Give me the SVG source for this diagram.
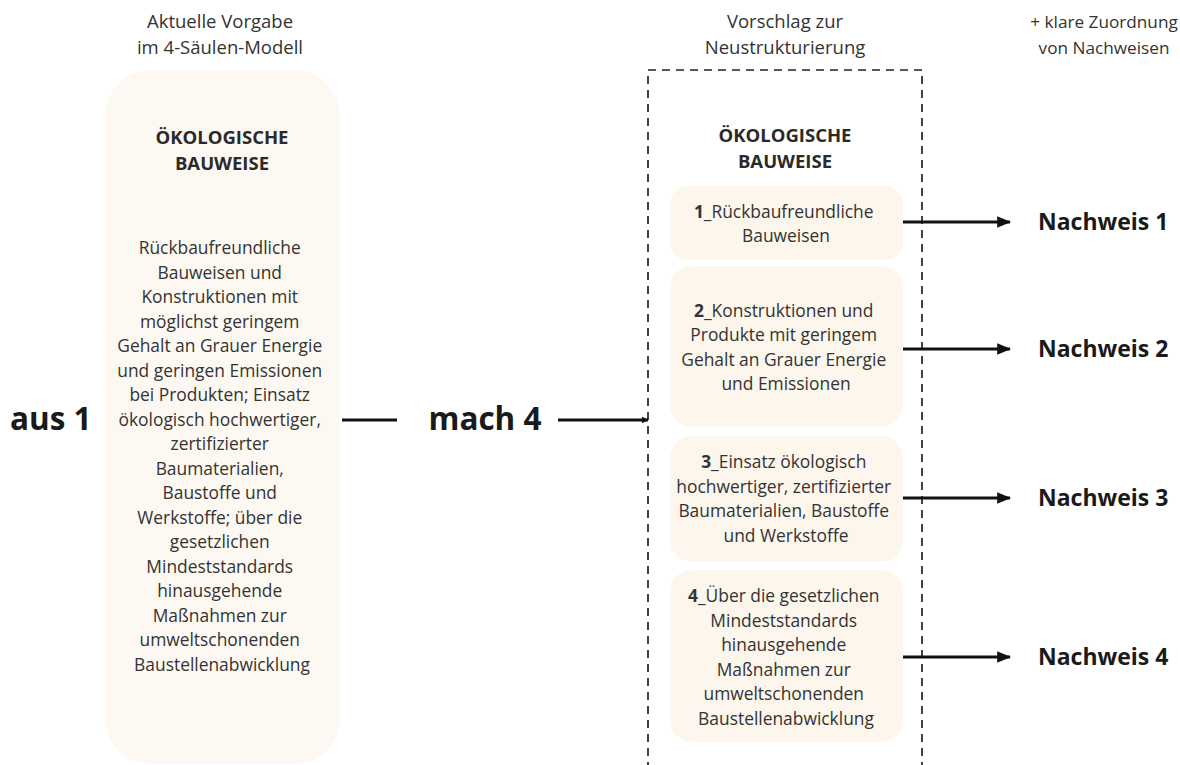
<svg xmlns="http://www.w3.org/2000/svg" width="1180" height="765" viewBox="0 0 1180 765">
  <defs>
    <marker id="arrow" viewBox="0 0 10 10" refX="9" refY="5" markerWidth="7" markerHeight="7" markerUnits="userSpaceOnUse" orient="auto">
      <path d="M0,0 L10,5 L0,10 z" fill="#111"/>
    </marker>
    <marker id="arrowBig" viewBox="0 0 12 10" refX="11" refY="5" markerWidth="14" markerHeight="12" markerUnits="userSpaceOnUse" orient="auto">
      <path d="M0,0 L12,5 L0,10 z" fill="#111"/>
    </marker>
    <style>
      text { font-family: "Open Sans", "Noto Sans", "Liberation Sans", sans-serif; fill: #2a2a2a; }
      .hdr { font-size: 18.5px; text-anchor: middle; fill: #333; }
      .hdr-sm { font-size: 17.2px; }
      .title { font-size: 18.5px; font-weight: 700; text-anchor: middle; }
      .body { font-size: 17.4px; text-anchor: middle; fill: #333; }
      .big { font-size: 31.5px; font-weight: 700; fill: #1a1a1a; }
      .nw { font-size: 23px; font-weight: 700; fill: #1a1a1a; }
      .pill { fill: #fdf9f2; }
      .box { fill: #fcf6ec; }
      .conn { stroke: #111; stroke-width: 2.8; fill: none; }
      .frame { stroke: #222; stroke-width: 1.7; fill: none; stroke-dasharray: 8 6; }
    </style>
  </defs>

  <!-- column headers -->
  <g id="headers">
    <text class="hdr" x="220" y="28">Aktuelle Vorgabe</text>
    <text class="hdr" x="220" y="54">im 4-Säulen-Modell</text>
    <text class="hdr" x="785" y="28">Vorschlag zur</text>
    <text class="hdr" x="785" y="54">Neustrukturierung</text>
    <text class="hdr hdr-sm" x="1104" y="28">+ klare Zuordnung</text>
    <text class="hdr hdr-sm" x="1104" y="54">von Nachweisen</text>
  </g>

  <!-- current single pillar -->
  <g id="pillar-current">
    <rect class="pill" x="105" y="70" width="235" height="694" rx="46"/>
    <text class="title" x="222" y="144">ÖKOLOGISCHE</text>
    <text class="title" x="222" y="170">BAUWEISE</text>
    <text class="body">
      <tspan x="222" y="254">Rückbaufreundliche</tspan>
      <tspan x="222" y="278.5">Bauweisen und</tspan>
      <tspan x="222" y="303">Konstruktionen mit</tspan>
      <tspan x="222" y="327.5">möglichst geringem</tspan>
      <tspan x="222" y="352">Gehalt an Grauer Energie</tspan>
      <tspan x="222" y="376.5">und geringen Emissionen</tspan>
      <tspan x="222" y="401">bei Produkten; Einsatz</tspan>
      <tspan x="222" y="425.5">ökologisch hochwertiger,</tspan>
      <tspan x="222" y="450">zertifizierter</tspan>
      <tspan x="222" y="474.5">Baumaterialien,</tspan>
      <tspan x="222" y="499">Baustoffe und</tspan>
      <tspan x="222" y="523.5">Werkstoffe; über die</tspan>
      <tspan x="222" y="548">gesetzlichen</tspan>
      <tspan x="222" y="572.5">Mindeststandards</tspan>
      <tspan x="222" y="597">hinausgehende</tspan>
      <tspan x="222" y="621.5">Maßnahmen zur</tspan>
      <tspan x="222" y="646">umweltschonenden</tspan>
      <tspan x="222" y="670.5">Baustellenabwicklung</tspan>
    </text>
  </g>

  <g id="label-aus">
    <text class="big" x="10" y="430">aus 1</text>
  </g>
  <g id="label-mach">
    <text class="big" x="485" y="430" text-anchor="middle">mach 4</text>
  </g>

  <!-- proposed structure -->
  <g id="frame-proposal">
    <rect class="frame" x="648" y="70" width="274" height="720"/>
    <text class="title" x="785" y="142">ÖKOLOGISCHE</text>
    <text class="title" x="785" y="168">BAUWEISE</text>
  </g>

  <g id="item-1">
    <rect class="box" x="670" y="186" width="233" height="74" rx="18"/>
    <text class="body">
      <tspan x="786" y="218"><tspan font-weight="700">1</tspan>_Rückbaufreundliche</tspan>
      <tspan x="786" y="242">Bauweisen</tspan>
    </text>
  </g>

  <g id="item-2">
    <rect class="box" x="670" y="266" width="233" height="161" rx="22"/>
    <text class="body">
      <tspan x="786" y="317"><tspan font-weight="700">2</tspan>_Konstruktionen und</tspan>
      <tspan x="786" y="341">Produkte mit geringem</tspan>
      <tspan x="786" y="365.5">Gehalt an Grauer Energie</tspan>
      <tspan x="786" y="390">und Emissionen</tspan>
    </text>
  </g>

  <g id="item-3">
    <rect class="box" x="670" y="436" width="233" height="126" rx="22"/>
    <text class="body">
      <tspan x="786" y="468"><tspan font-weight="700">3</tspan>_Einsatz ökologisch</tspan>
      <tspan x="786" y="493">hochwertiger, zertifizierter</tspan>
      <tspan x="786" y="517">Baumaterialien, Baustoffe</tspan>
      <tspan x="786" y="541.5">und Werkstoffe</tspan>
    </text>
  </g>

  <g id="item-4">
    <rect class="box" x="670" y="570" width="233" height="172" rx="22"/>
    <text class="body">
      <tspan x="786" y="602"><tspan font-weight="700">4</tspan>_Über die gesetzlichen</tspan>
      <tspan x="786" y="626.5">Mindeststandards</tspan>
      <tspan x="786" y="651">hinausgehende</tspan>
      <tspan x="786" y="675.5">Maßnahmen zur</tspan>
      <tspan x="786" y="700">umweltschonenden</tspan>
      <tspan x="786" y="724.5">Baustellenabwicklung</tspan>
    </text>
  </g>

  <g id="proofs">
    <text class="nw" x="1038" y="230">Nachweis 1</text>
    <text class="nw" x="1038" y="357">Nachweis 2</text>
    <text class="nw" x="1038" y="506">Nachweis 3</text>
    <text class="nw" x="1038" y="665">Nachweis 4</text>
  </g>

  <!-- connectors -->
  <g id="connectors">
    <line class="conn" x1="342" y1="420" x2="397" y2="420"/>
    <line class="conn" x1="558" y1="420" x2="648" y2="420" marker-end="url(#arrow)"/>
    <line class="conn" x1="903" y1="222" x2="1010" y2="222" marker-end="url(#arrowBig)"/>
    <line class="conn" x1="903" y1="349" x2="1010" y2="349" marker-end="url(#arrowBig)"/>
    <line class="conn" x1="903" y1="498" x2="1010" y2="498" marker-end="url(#arrowBig)"/>
    <line class="conn" x1="903" y1="657" x2="1010" y2="657" marker-end="url(#arrowBig)"/>
  </g>
</svg>
